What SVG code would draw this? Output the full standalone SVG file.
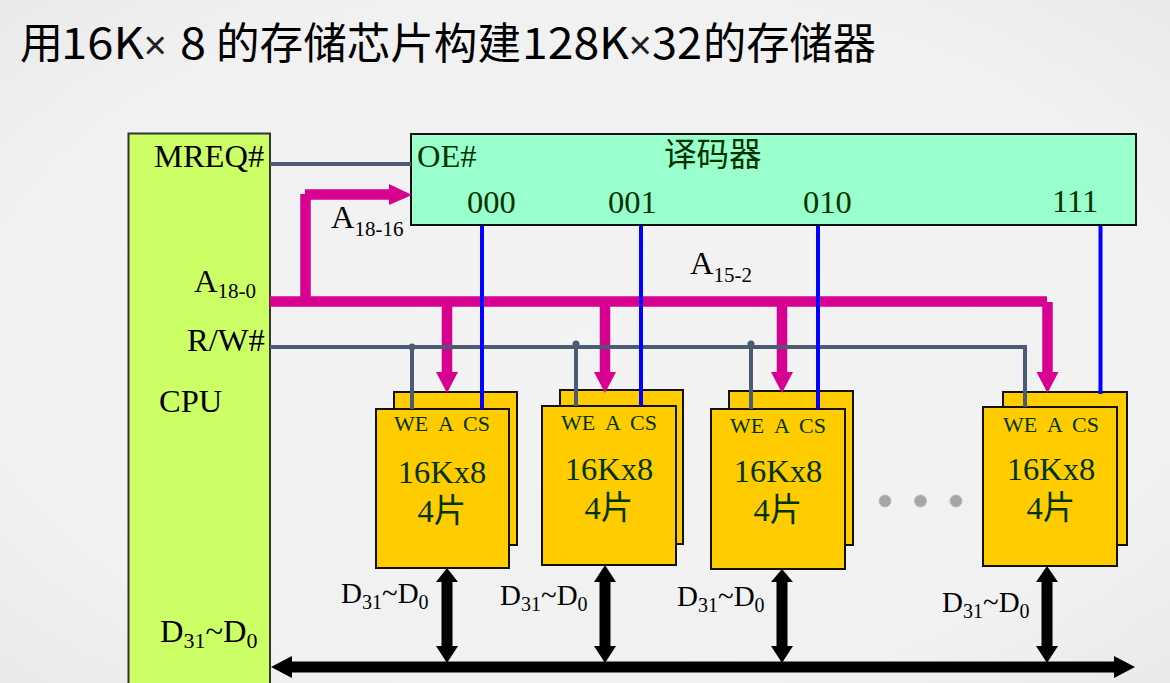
<svg xmlns="http://www.w3.org/2000/svg" width="1170" height="683" viewBox="0 0 1170 683">
<style>
text{font-family:"Liberation Serif","Noto Sans CJK SC",serif;fill:#000}
.t{font-size:32.500px}
.s{font-size:22px}
.a{font-size:21px}
.d{font-size:29px}
.ds{font-size:20px}
.dk{fill:#003300}
.pins{font-size:22px;fill:#003300}
.big{font-size:32.500px;fill:#003300;text-anchor:middle}
.chip{fill:#ffcc00;stroke:#111;stroke-width:2}
.grey{fill:none;stroke:#4b5b73;stroke-width:4}
.blue{fill:none;stroke:#0000ff;stroke-width:4}
.mag{fill:none;stroke:#d80090;stroke-width:10.500}
.magf{fill:#d80090}
.blk{fill:none;stroke:#000;stroke-width:11}
.title{font-family:"Noto Sans CJK SC","Noto Sans",sans-serif;font-size:43px}
.x{font-family:"Liberation Sans",sans-serif;font-size:40px;fill:#222}
</style>
<defs>
<radialGradient id="bg" cx="50%" cy="50%" r="75%"><stop offset="0" stop-color="#f3f3f3"/><stop offset="0.7" stop-color="#f1f1f1"/><stop offset="1" stop-color="#e8e8e8"/></radialGradient>
</defs>
<rect width="1170" height="683" fill="url(#bg)"/>
<g id="title">
<text class="title" x="20" y="59">用</text>
<text class="title" x="61" y="59" textLength="83" lengthAdjust="spacingAndGlyphs">16K</text>
<text class="x" x="143.500" y="59">×</text>
<text class="title" x="180" y="59" textLength="26" lengthAdjust="spacingAndGlyphs">8</text>
<text class="title" x="216" y="59" textLength="305" lengthAdjust="spacingAndGlyphs">的存储芯片构建</text>
<text class="title" x="522" y="59" textLength="107" lengthAdjust="spacingAndGlyphs">128K</text>
<text class="x" x="628.500" y="59">×</text>
<text class="title" x="652" y="59" textLength="50" lengthAdjust="spacingAndGlyphs">32</text>
<text class="title" x="703" y="59" textLength="173" lengthAdjust="spacingAndGlyphs">的存储器</text>
</g>
<g id="cpu">
<rect x="128.500" y="133.500" width="141.500" height="560" fill="#ccff66" stroke="#333" stroke-width="2"/>
<text class="t" x="154" y="167">MREQ#</text>
<text class="t" x="194" y="292">A<tspan class="a" dy="6">18-0</tspan></text>
<text class="t" x="187" y="351">R/W#</text>
<text class="t" x="159" y="412">CPU</text>
<text class="t" x="160" y="642">D<tspan class="s" dy="6">31</tspan><tspan dy="-6">~D</tspan><tspan class="s" dy="6">0</tspan></text>
</g>
<g id="decoder">
<rect x="411" y="134" width="725" height="91" fill="#99ffcc" stroke="#111" stroke-width="2"/>
<text class="t dk" x="417" y="167">OE#</text>
<text class="t dk" x="664" y="166">译码器</text>
<text class="t dk" x="467" y="213">000</text>
<text class="t dk" x="608" y="213">001</text>
<text class="t dk" x="803" y="213">010</text>
<text class="t dk" x="1052" y="212">111</text>
</g>
<g id="chip1">
<rect class="chip" x="394" y="392" width="123" height="153"/><rect class="chip" x="376" y="409" width="133" height="159"/>
<text class="pins" x="394" y="431">WE</text><text class="pins" x="438" y="431">A</text><text class="pins" x="463" y="431">CS</text>
<text class="big" x="442" y="483">16Kx8</text><text class="big" x="442" y="522">4片</text>
</g>
<g id="chip2">
<rect class="chip" x="560" y="390" width="123" height="154"/><rect class="chip" x="542" y="406" width="134" height="159"/>
<text class="pins" x="561" y="430">WE</text><text class="pins" x="605" y="430">A</text><text class="pins" x="630" y="430">CS</text>
<text class="big" x="609" y="480">16Kx8</text><text class="big" x="609" y="519">4片</text>
</g>
<g id="chip3">
<rect class="chip" x="729" y="391" width="124" height="154"/><rect class="chip" x="711" y="409" width="134" height="160"/>
<text class="pins" x="730" y="433">WE</text><text class="pins" x="774" y="433">A</text><text class="pins" x="799" y="433">CS</text>
<text class="big" x="778" y="482">16Kx8</text><text class="big" x="778" y="521">4片</text>
</g>
<g id="chip4">
<rect class="chip" x="1003" y="392" width="124" height="153"/><rect class="chip" x="983" y="407" width="134" height="159"/>
<text class="pins" x="1003" y="432">WE</text><text class="pins" x="1047" y="432">A</text><text class="pins" x="1072" y="432">CS</text>
<text class="big" x="1051" y="480">16Kx8</text><text class="big" x="1051" y="519">4片</text>
</g>
<g id="connectors">
<path class="grey" d="M270 164H411"/>
<path class="mag" d="M305.500 301V194"/><path class="mag" d="M305 194.500H392"/><polygon class="magf" points="389,184 412,195 389,205"/>
<path class="mag" d="M270 301.500H1047"/><path class="mag" d="M1047.500 302V373"/>
<path class="mag" d="M447 301V373M605 301V373M782 301V373"/>
<polygon class="magf" points="436,372 458,372 447,393"/><polygon class="magf" points="594,372 616,372 605,393"/><polygon class="magf" points="771,372 793,372 782,393"/><polygon class="magf" points="1036.500,372 1058.500,372 1047.500,393"/>
<path class="grey" d="M270 347H1025V407M412 347V409M576 344V406M751 344V409"/>
<circle cx="412" cy="347" r="3.500" fill="#4b5b73"/><circle cx="576" cy="344" r="3.500" fill="#4b5b73"/><circle cx="751" cy="344" r="3.500" fill="#4b5b73"/>
<path class="blue" d="M482 226V409M641 226V406M818 226V409M1100.500 226V394"/>
<path class="blk" d="M447 580V648M605 580V648M782 580V648M1047 580V648M290 667H1116"/>
<g fill="#000">
<polygon points="447,568 436,582 458,582"/><polygon points="436,646 458,646 447,663"/>
<polygon points="605,565 594,582 616,582"/><polygon points="594,646 616,646 605,663"/>
<polygon points="782,569 771,582 793,582"/><polygon points="771,646 793,646 782,663"/>
<polygon points="1047,566 1036,582 1058,582"/><polygon points="1036,646 1058,646 1047,663"/>
<polygon points="271,667 292,656 292,678"/><polygon points="1135,667 1114,656 1114,678"/>
</g>
</g>
<g id="labels">
<text class="t" x="331" y="228">A<tspan class="a" dy="8">18-16</tspan></text>
<text class="t" x="690" y="274">A<tspan class="a" dy="8">15-2</tspan></text>
<text class="d" x="341" y="603">D<tspan class="ds" dy="6">31</tspan><tspan dy="-6">~D</tspan><tspan class="ds" dy="6">0</tspan></text>
<text class="d" x="500" y="605">D<tspan class="ds" dy="6">31</tspan><tspan dy="-6">~D</tspan><tspan class="ds" dy="6">0</tspan></text>
<text class="d" x="677" y="606">D<tspan class="ds" dy="6">31</tspan><tspan dy="-6">~D</tspan><tspan class="ds" dy="6">0</tspan></text>
<text class="d" x="942" y="612">D<tspan class="ds" dy="6">31</tspan><tspan dy="-6">~D</tspan><tspan class="ds" dy="6">0</tspan></text>
</g>
<g id="dots" fill="#a6a6a6" stroke="#bbb"><circle cx="885" cy="501" r="6"/><circle cx="920.500" cy="501" r="6"/><circle cx="956" cy="501" r="6"/></g>
</svg>
